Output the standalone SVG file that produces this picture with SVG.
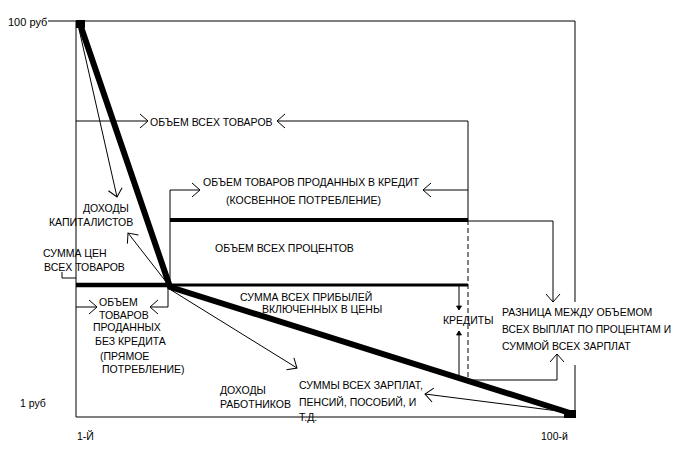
<svg xmlns="http://www.w3.org/2000/svg" width="678" height="475" viewBox="0 0 678 475">
<style>
text{font-family:"Liberation Sans",Arial,sans-serif;font-size:10.5px;fill:#000}
.ln{fill:none;stroke:#000;stroke-width:1}
.ar{fill:none;stroke:#000;stroke-width:1;marker-end:url(#a)}
.sa{fill:none;stroke:#000;stroke-width:1;marker-end:url(#s)}
.dash{stroke-dasharray:5 3}
</style>
<defs>
<marker id="a" markerUnits="userSpaceOnUse" markerWidth="20" markerHeight="20" viewBox="-10 -10 20 20" refX="0" refY="0" orient="auto" overflow="visible">
<path d="M-8,-7 L0,0 L-8,7" fill="none" stroke="#000" stroke-width="1"/>
</marker>
<marker id="s" markerUnits="userSpaceOnUse" markerWidth="10" markerHeight="10" viewBox="-5 -5 10 10" refX="0" refY="0" orient="auto" overflow="visible">
<path d="M-4,-2.5 L0,0 L-4,2.5 Z" fill="#000" stroke="#000" stroke-width="0.8"/>
</marker>
</defs>
<rect width="678" height="475" fill="#fff"/>
<g id="connectors">
<path class="ln" d="M48,21 H575 V302 M575,365 V417 H76 V21"/>
<path d="M80,24 L170,287 L570,413" fill="none" stroke="#000" stroke-width="6" stroke-linejoin="round"/>
<rect x="76" y="20" width="9" height="8"/>
<rect x="564" y="410" width="12" height="8"/>
<path d="M76,285 H170" stroke="#000" stroke-width="4.5"/>
<path d="M170,285 H468" stroke="#000" stroke-width="3"/>
<path d="M170,220 H468" stroke="#000" stroke-width="4"/>
<path class="ar" d="M170,285 V190 H200"/>
<path class="ln" d="M468,121 V220"/>
<path class="ln dash" d="M468,220 V381"/>
<path class="ar" d="M76,121 H148"/>
<path class="ar" d="M468,121 H277"/>
<path class="ar" d="M468,190 H423"/>
<path class="ar" d="M468,221 H553 V302"/>
<path class="ar" d="M468,380 H557 V354"/>
<path class="sa" d="M459,286 V310"/>
<path class="sa" d="M459,378 V331"/>
<path class="ar" d="M171,290 L297,368"/>
<path class="ar" d="M566,412 L425,394"/>
<path class="ar" d="M79,29 L117,197"/>
<path class="ar" d="M167,283 L128,233"/>
<path class="ar" d="M76,307 H97"/>
<path class="ar" d="M168,288 V307 H150"/>
<path class="ln" d="M62,272 V278 H76"/>
</g>
<g id="axis-labels">
<text x="8" y="26" style="font-size:11px">100 руб</text>
<text x="20" y="407">1 руб</text>
<text x="77" y="440">1-Й</text>
<text x="541" y="440">100-й</text>
</g>
<g id="all-goods"><text x="150" y="126">ОБЪЕМ ВСЕХ ТОВАРОВ</text></g>
<g id="credit-goods">
<text x="203" y="186">ОБЪЕМ ТОВАРОВ ПРОДАННЫХ В КРЕДИТ</text>
<text x="226" y="204">(КОСВЕННОЕ ПОТРЕБЛЕНИЕ)</text>
</g>
<g id="interest"><text x="215" y="252">ОБЪЕМ ВСЕХ ПРОЦЕНТОВ</text></g>
<g id="profits">
<text x="240" y="301">СУММА ВСЕХ ПРИБЫЛЕЙ</text>
<text x="262" y="313">ВКЛЮЧЕННЫХ В ЦЕНЫ</text>
</g>
<g id="capitalists">
<text x="83" y="212">ДОХОДЫ</text>
<text x="49" y="226">КАПИТАЛИСТОВ</text>
</g>
<g id="price-sum">
<text x="43" y="257">СУММА ЦЕН</text>
<text x="44" y="271">ВСЕХ ТОВАРОВ</text>
</g>
<g id="direct">
<text x="99" y="306">ОБЪЕМ</text>
<text x="99" y="319">ТОВАРОВ</text>
<text x="93" y="331">ПРОДАННЫХ</text>
<text x="95" y="345">БЕЗ КРЕДИТА</text>
<text x="100" y="360">(ПРЯМОЕ</text>
<text x="102" y="373">ПОТРЕБЛЕНИЕ)</text>
</g>
<g id="workers">
<text x="220" y="394">ДОХОДЫ</text>
<text x="220" y="408">РАБОТНИКОВ</text>
</g>
<g id="wages">
<text x="299" y="389">СУММЫ ВСЕХ ЗАРПЛАТ,</text>
<text x="299" y="406">ПЕНСИЙ, ПОСОБИЙ, И</text>
<text x="299" y="421">Т.Д.</text>
</g>
<g id="credits"><text x="443" y="324">КРЕДИТЫ</text></g>
<g id="difference">
<text x="502" y="316">РАЗНИЦА МЕЖДУ ОБЪЕМОМ</text>
<text x="502" y="333" textLength="169" lengthAdjust="spacingAndGlyphs">ВСЕХ ВЫПЛАТ ПО ПРОЦЕНТАМ И</text>
<text x="502" y="350">СУММОЙ ВСЕХ ЗАРПЛАТ</text>
</g>
</svg>
